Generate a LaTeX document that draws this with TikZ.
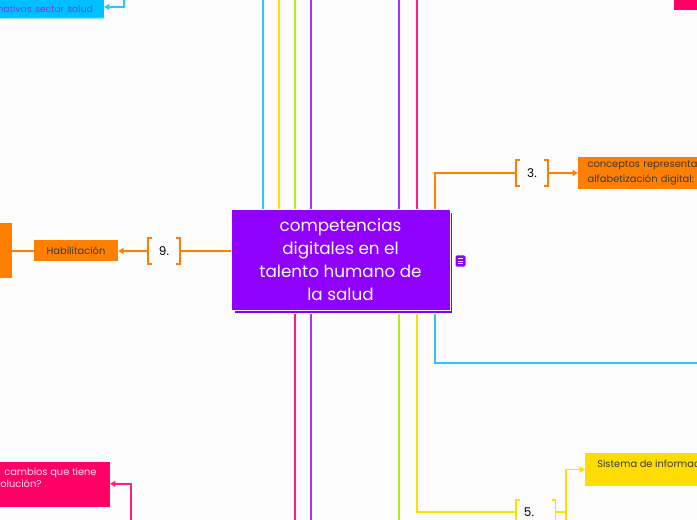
\documentclass[tikz,border=0pt]{standalone}
\usepackage{fontspec}
\setmainfont{Poppins}
\usetikzlibrary{arrows.meta}
\definecolor{bg}{HTML}{FCFCFC}
\definecolor{cpurple}{HTML}{8F00FF}
\definecolor{cpurple2}{HTML}{8500F0}
\definecolor{lcyan}{HTML}{2DC6F7}
\definecolor{bcyan}{HTML}{00BFFF}
\definecolor{lyellow}{HTML}{FFDF00}
\definecolor{byellow}{HTML}{FFDD00}
\definecolor{llime}{HTML}{B4EE1E}
\definecolor{lpurple}{HTML}{A235FF}
\definecolor{lpink}{HTML}{FF1F78}
\definecolor{bpink}{HTML}{FF0066}
\definecolor{lorange}{HTML}{FF8000}
\definecolor{txtdark}{HTML}{3A3A3A}
\definecolor{txtpurple}{HTML}{7A3BE6}
\definecolor{txtpink}{HTML}{FFE0EE}
\begin{document}
\begin{tikzpicture}[x=0.75pt,y=-0.75pt,
  ln/.style={line width=1.4pt},
  arr/.style={-{Triangle[length=4pt,width=4.5pt]}},
  lbl/.style={font=\fontsize{7.4}{11.25}\selectfont, text=txtdark},
  brk/.style={inner sep=0pt, font=\fontsize{9}{11}\selectfont, text=black},
  boxs/.style={inner sep=0pt, draw=none},
]
\useasboundingbox (0,0) rectangle (697,520);
\fill[bg] (0,0) rectangle (697,520);
\clip (0,0) rectangle (697,520);

% ---------- nodes (placement) ----------
\coordinate (cc) at (340.5,260);
\node[boxs, minimum width=164.25pt, minimum height=75.75pt] (c) at (cc) {};
\node[brk, minimum width=23.25pt, minimum height=19.5pt] (b3) at (532,173) {3.};
\node[brk, minimum width=24pt, minimum height=18.75pt] (b9) at (164,251) {9.};
\node[brk, minimum width=29.25pt, minimum height=22pt, anchor=north west] (b5) at (516,500) {};
\node[brk] (t5) at (529,512) {5.};

% ---------- lines above the centre ----------
\draw[ln,lcyan]   (263,-2) -- (263,0 |- cc);
\draw[ln,lyellow] (279,-2) -- (279,0 |- cc);
\draw[ln,llime]   (295,-2) -- (295,0 |- c.north);
\draw[ln,lpurple] (311,-2) -- (311,525);
\draw[ln,lpurple] (399,-2) -- (399,0 |- c.north);
\draw[ln,lpink]   (417,-2) -- (417,0 |- c.north);
% ---------- lines below the centre ----------
\draw[ln,lpink]   (295,0 |- c.south) -- (295,525);
\draw[ln,llime]   (399,0 |- cc) -- (399,525);
\draw[ln,lcyan]   (435,0 |- cc) |- (705,363);

% orange branch to 3.
\node[boxs, fill=lorange, anchor=west, minimum height=24pt, text width=104pt,
      inner xsep=7pt, align=left, lbl] (box3) at (578,173)
      {conceptos representat\\alfabetización digital:};
\draw[ln,lorange] (435,0 |- cc) |- (b3.west);
\draw[ln,lorange,arr] (b3.east) -- (box3.west);
\draw[ln,lorange] ([xshift=3pt]b3.north west) -- (b3.north west) -- (b3.south west) -- ([xshift=3pt]b3.south west);
\draw[ln,lorange] ([xshift=-3pt]b3.north east) -- (b3.north east) -- (b3.south east) -- ([xshift=-3pt]b3.south east);

% orange branch to 9.
\node[boxs, fill=lorange, minimum width=63pt, minimum height=15.75pt, lbl] (hab) at (76,251) {Habilitación};
\node[boxs, fill=lorange, minimum width=16.5pt, minimum height=41.25pt] (lbox) at (1,250.5) {};
\draw[ln,lorange] (cc |- b9.east) -- (b9.east);
\draw[ln,lorange,arr] (b9.west) -- (hab.east);
\draw[ln,lorange] (hab.west) -- (lbox.east |- hab.west);
\draw[ln,lorange] ([xshift=3pt]b9.north west) -- (b9.north west) -- (b9.south west) -- ([xshift=3pt]b9.south west);
\draw[ln,lorange] ([xshift=-3pt]b9.north east) -- (b9.north east) -- (b9.south east) -- ([xshift=-3pt]b9.south east);

% yellow branch to 5.
\node[boxs, fill=byellow, anchor=west, minimum width=120pt, minimum height=24.75pt] (ybox) at (585,469.5) {};
\node[lbl, anchor=west, inner sep=0pt] (ytext) at (597,464) {Sistema de informac};
\draw[ln,lyellow] (417,0 |- cc) |- (b5.west |- t5);
\coordinate (y5) at (566,512);
\draw[ln,lyellow] (b5.east |- t5) -- (y5);
\draw[ln,lyellow,arr] (y5) |- (ybox.west);
\draw[ln,lyellow] (y5) -- (566,525);
\draw[ln,lyellow] ([xshift=3pt]b5.north west) -- (b5.north west) -- (b5.south west);
\draw[ln,lyellow] ([xshift=-3pt]b5.north east) -- (b5.north east) -- (b5.south east);

% cyan top-left
\node[boxs, fill=bcyan, anchor=east, minimum height=13.5pt, text width=100pt, inner xsep=8pt,
      align=right, font=\fontsize{7}{9}\selectfont, text=txtpurple] (cybox) at (104,9) {mativas sector salud};
\draw[line width=0.8pt, bcyan!45] (-5,18.6) -- (cybox.south east);
\coordinate (cytop) at (124,-2);
\draw[ln,lcyan,arr] (cytop) |- ([yshift=1.5pt]cybox.east);

% pink top-right
\node[boxs, fill=bpink, minimum width=24pt, minimum height=15pt] (pbox) at (690,0) {};

% pink bottom-left
\node[boxs, fill=bpink, anchor=east, minimum width=100pt, minimum height=33.75pt] (pkbox) at (110,484.5) {};
\node[anchor=north west, inner sep=0pt, align=left, font=\fontsize{7.4}{9}\selectfont, text=txtpink] (pktext) at (0,468)
  {\hspace{3pt}cambios que tiene\\olución?};
\coordinate (pkbot) at (131,525);
\draw[ln,lpink,arr] (pkbot) |- ([yshift=0.5pt]pkbox.east);

% ---------- centre node ----------
\fill[cpurple2, draw=white, line width=0.6pt] (234,212.5) rectangle (452,313);
\node[fill=cpurple, draw=white, line width=0.6pt, minimum width=164.25pt, minimum height=75.75pt,
      inner sep=0pt, align=center, text=white, font=\fontsize{12.6}{17.25}\selectfont] (cmain) at (cc)
  {competencias\\digitales en el\\talento humano de\\la salud};

% note icon
\node[fill=cpurple, rounded corners=1.2pt, minimum width=7.5pt, minimum height=8.5pt, inner sep=0pt] (icon) at (460.5,261) {};
\foreach \yy in {-2,0,2}
  \draw[white, line width=0.5pt] ([xshift=-2pt,yshift=\yy pt]icon.center) -- ([xshift=2pt,yshift=\yy pt]icon.center);
\end{tikzpicture}
\end{document}
